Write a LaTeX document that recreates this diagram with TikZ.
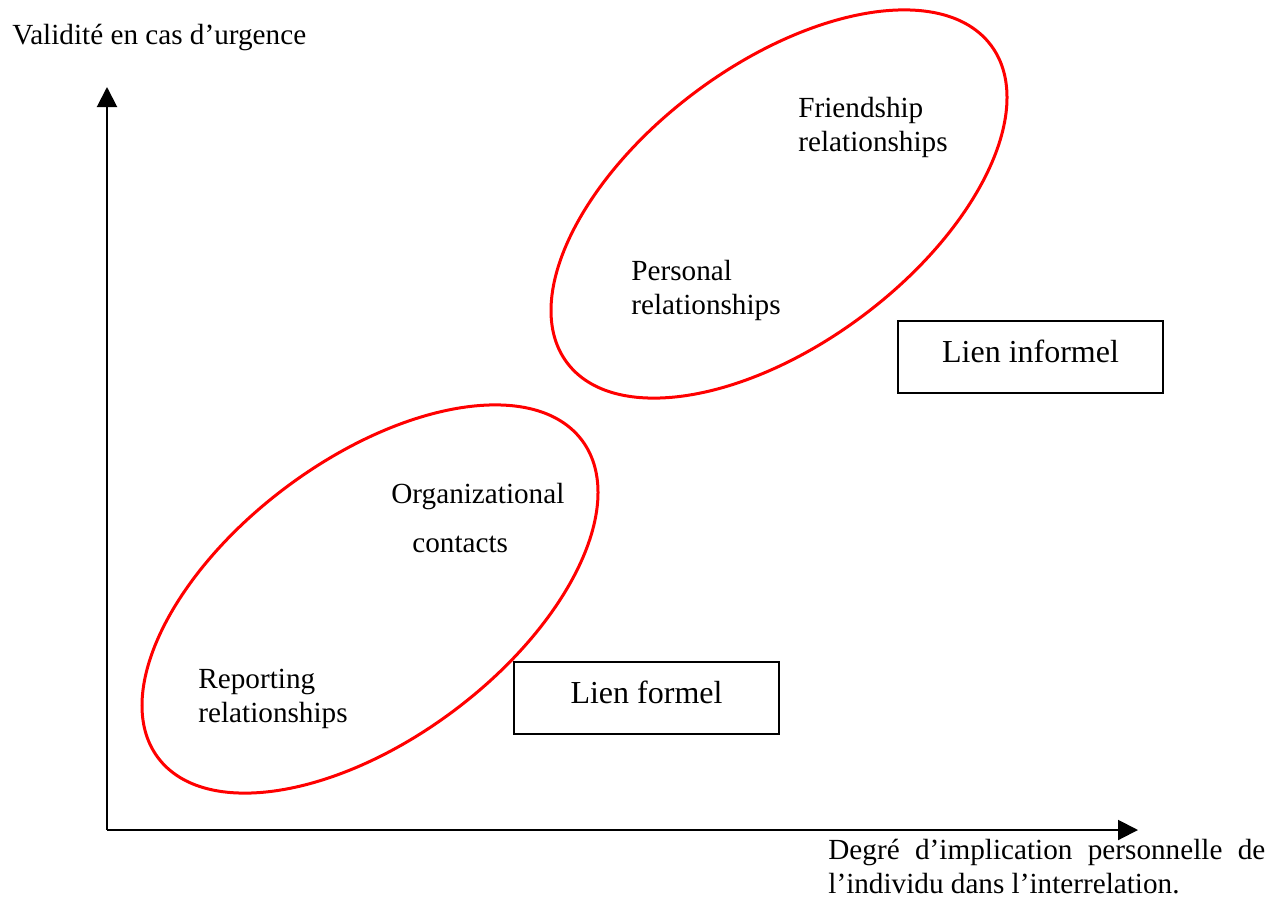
\documentclass[tikz,border=0pt]{standalone}
\usepackage{fontspec}
\setmainfont{Liberation Serif}
\usetikzlibrary{arrows.meta,shapes.geometric}
\begin{document}
\begin{tikzpicture}[x=0.5pt,y=-0.5pt,
  lbl/.style={anchor=base west,inner sep=0pt,font=\fontsize{14.6}{17}\selectfont},
  zone/.style={draw=red,line width=1.5pt,ellipse,minimum width=264.8pt,minimum height=139.7pt,inner sep=0pt,rotate=36.8},
  linkbox/.style={draw,line width=1pt,minimum width=132.5pt,minimum height=36pt,inner sep=0pt,text height=11pt,text depth=6pt,font=\fontsize{16}{19}\selectfont},
  axis/.style={line width=1pt,-{Triangle[length=10pt,width=10pt]}}]
\useasboundingbox (0,0) rectangle (1278,910);
% axes
\coordinate (o) at (107,830);
\coordinate (ytop) at (107,87);
\coordinate (xend) at (1138,830);
\draw[axis] (o) -- (ytop);
\draw[axis] (o) -- (xend);
% ellipses
\node[zone] (formal) at (370,599) {};
\node[zone] (informal) at (779,204) {};
% boxes
\node[linkbox] (lf) at (646.5,698) {Lien formel};
\node[linkbox] (li) at (1030.5,357) {Lien informel};
% labels
\node[lbl] (yl) at (12,44) {Validité en cas d’urgence};
\node[lbl] (xl) at (828,859) {\vtop{\hbox to 218.5pt{Degré\hfill d’implication\hfill personnelle\hfill de}\hbox{l’individu dans l’interrelation.}}};
\node[lbl] (fr) at (798,117) {\vtop{\hbox{Friendship}\hbox{relationships}}};
\node[lbl] (pr) at (631,280) {\vtop{\hbox{Personal}\hbox{relationships}}};
\node[lbl] (oc1) at (391,503) {Organizational};
\node[lbl] (oc2) at (412,552) {contacts};
\node[lbl] (rr) at (198,688) {\vtop{\hbox{Reporting}\hbox{relationships}}};
\end{tikzpicture}
\end{document}
